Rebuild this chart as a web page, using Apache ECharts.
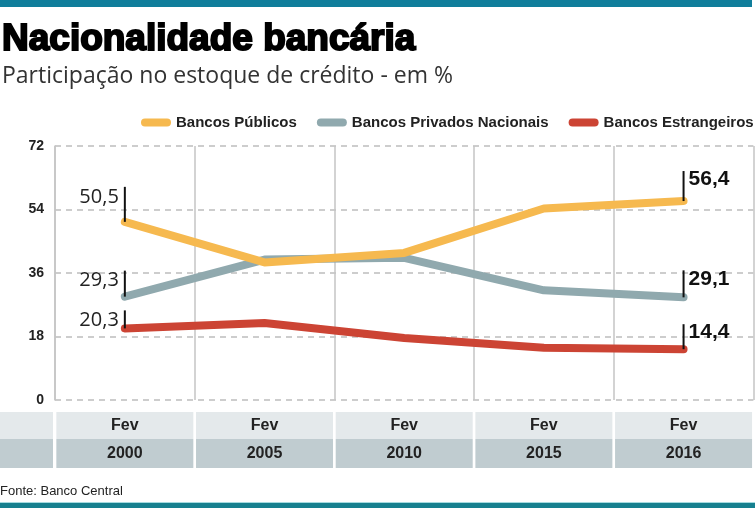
<!DOCTYPE html>
<html>
<head>
<meta charset="utf-8">
<script src="https://cdn.jsdelivr.net/npm/echarts@6/dist/echarts.min.js"></script>
<style>
html,body{margin:0;padding:0;background:#fff;}
#chart{width:755px;height:508px;}
</style>
</head>
<body>
<div id="chart"></div>
<script>
// ---- data ----
var years = ['2000', '2005', '2010', '2015', '2016'];
var months = ['Fev', 'Fev', 'Fev', 'Fev', 'Fev'];
var yTicks = [0, 18, 36, 54, 72];
var seriesNames = ['Bancos Públicos', 'Bancos Privados Nacionais', 'Bancos Estrangeiros'];
var publicos = [50.5, 39.0, 41.7, 54.3, 56.4];
var privados = [29.3, 39.8, 40.3, 31.1, 29.1];
var estrangeiros = [20.3, 21.8, 17.6, 14.8, 14.4];

// ---- styling ----
var colors = ['#f6b94f', '#90a9ae', '#cc4434'];
var startLen = [35, 26, 18];
var endLen = [30, 27, 25];
var allData = [publicos, privados, estrangeiros];

function fmt(v) { return String(v.toFixed(1)).replace('.', ','); }

var series = allData.map(function (d, i) {
  var last = d.length - 1;
  return {
    name: seriesNames[i],
    type: 'line',
    data: d,
    color: colors[i],
    z: 4 - i,
    symbol: 'none',
    lineStyle: { width: 8, color: colors[i], cap: 'round', join: 'round' },
    emphasis: { disabled: true },
    markPoint: {
      silent: true,
      animation: false,
      data: [
        {
          coord: [0, d[0]],
          symbol: 'rect',
          symbolSize: [2, startLen[i]],
          symbolOffset: [0, '-50%'],
          itemStyle: { color: '#111' },
          label: {
            show: true,
            formatter: fmt(d[0]),
            position: [-5, 0],
            align: 'right',
            verticalAlign: 'top',
            fontFamily: 'Open Sans',
            fontSize: 20,
            color: '#222'
          }
        },
        {
          coord: [last, d[last]],
          symbol: 'rect',
          symbolSize: [2, endLen[i]],
          symbolOffset: [0, '-50%'],
          itemStyle: { color: '#111' },
          label: {
            show: true,
            formatter: fmt(d[last]),
            position: [6, -2],
            align: 'left',
            verticalAlign: 'top',
            fontFamily: 'Liberation Sans',
            fontWeight: 'bold',
            fontSize: 21,
            color: '#111'
          }
        }
      ]
    }
  };
});

var chart = echarts.init(document.getElementById('chart'), null, { renderer: 'canvas' });
chart.setOption({
  animation: false,
  backgroundColor: '#fff',
  title: [
    {
      text: 'Nacionalidade bancária',
      left: 2, top: 21, padding: 0,
      textStyle: { fontFamily: 'Liberation Sans', fontWeight: 'bold', fontSize: 37, color: '#000', textBorderColor: '#000', textBorderWidth: 2 }
    },
    {
      text: 'Participação no estoque de crédito - em %',
      left: 2, top: 65, padding: 0,
      textStyle: { fontFamily: 'Open Sans', fontWeight: 'normal', fontSize: 23, color: '#333' }
    },
    {
      text: 'Fonte: Banco Central',
      left: 0, top: 485, padding: 0,
      textStyle: { fontFamily: 'Liberation Sans', fontWeight: 'normal', fontSize: 13, color: '#222' }
    }
  ],
  legend: {
    data: seriesNames,
    left: 141, top: 115, padding: 0,
    itemWidth: 30, itemHeight: 9, itemGap: 20,
    icon: 'path://M4,0 L26,0 A4,4 0 0 1 26,8 L4,8 A4,4 0 0 1 4,0 Z',
    textStyle: { fontFamily: 'Liberation Sans', fontWeight: 'bold', fontSize: 15, color: '#222' },
    selectedMode: false
  },
  grid: { left: 55, right: 1, top: 146, bottom: 108, containLabel: false },
  xAxis: {
    type: 'category',
    data: years,
    boundaryGap: true,
    axisLine: { show: false },
    axisTick: { show: false },
    splitLine: { show: true, lineStyle: { color: '#c4c4c4', width: 1.5, type: 'solid' } },
    axisLabel: {
      interval: 0,
      margin: 12,
      formatter: function (v, idx) { return '{f|' + months[idx] + '}\n{y|' + v + '}'; },
      rich: {
        f: { width: 137, height: 27, lineHeight: 27, backgroundColor: '#e4e9eb', align: 'center', fontFamily: 'Liberation Sans', fontWeight: 'bold', fontSize: 16, color: '#222' },
        y: { width: 137, height: 29, lineHeight: 29, backgroundColor: '#c0ccd0', align: 'center', fontFamily: 'Liberation Sans', fontWeight: 'bold', fontSize: 16, color: '#222' }
      }
    }
  },
  yAxis: {
    type: 'value',
    min: yTicks[0], max: yTicks[yTicks.length - 1], interval: 18,
    axisLine: { show: true, lineStyle: { color: '#c4c4c4', width: 1.5 } },
    axisTick: { show: false },
    axisLabel: { margin: 11, fontFamily: 'Liberation Sans', fontWeight: 'bold', fontSize: 14, color: '#222' },
    splitLine: { show: true, lineStyle: { color: '#bdbdbd', width: 1.5, type: [6, 5] } }
  },
  graphic: [
    { type: 'rect', left: 0, top: 0, shape: { width: 752, height: 7 }, style: { fill: '#107e9b' }, silent: true },
    { type: 'rect', left: 0, top: 412, shape: { width: 53, height: 27 }, style: { fill: '#e4e9eb' }, silent: true },
    { type: 'rect', left: 0, top: 439, shape: { width: 53, height: 29 }, style: { fill: '#c0ccd0' }, silent: true },
    { type: 'rect', left: 0, top: 502, shape: { width: 755, height: 1 }, style: { fill: '#a6dbe0' }, silent: true },
    { type: 'rect', left: 0, top: 503, shape: { width: 755, height: 5 }, style: { fill: '#17808f' }, silent: true }
  ],
  series: series
});
</script>
</body>
</html>
